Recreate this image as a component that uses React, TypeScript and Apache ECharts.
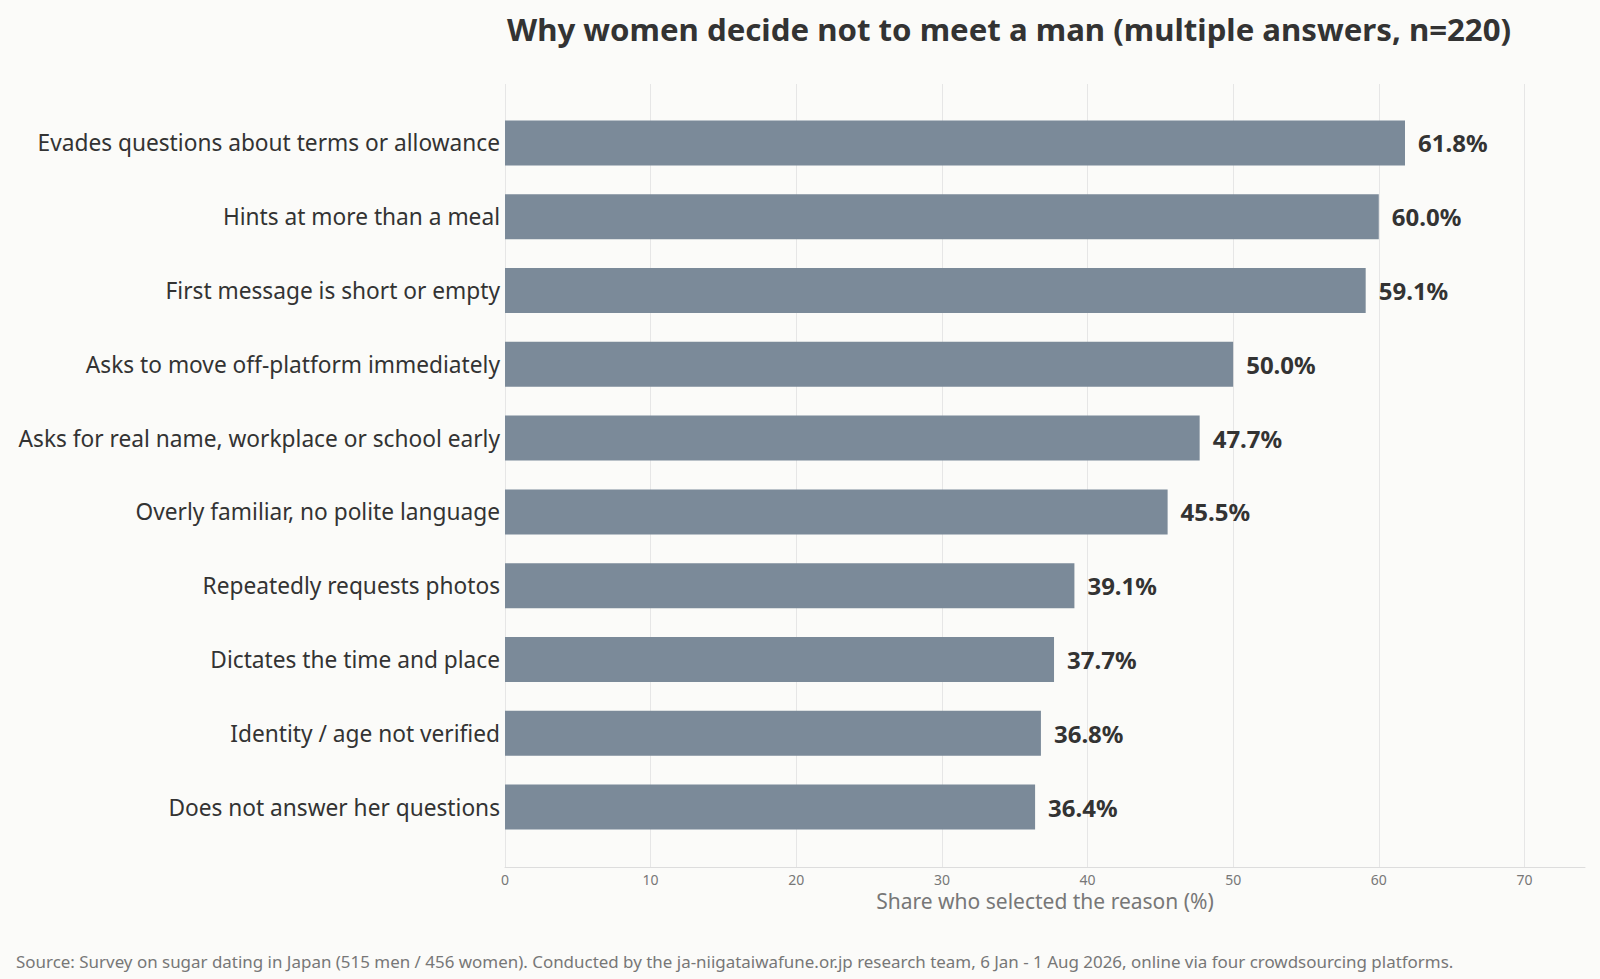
import { useRef, useEffect } from "react";
import * as echarts from "echarts";

// 理由（上から順）
const reasons = [
  "Evades questions about terms or allowance",
  "Hints at more than a meal",
  "First message is short or empty",
  "Asks to move off-platform immediately",
  "Asks for real name, workplace or school early",
  "Overly familiar, no polite language",
  "Repeatedly requests photos",
  "Dictates the time and place",
  "Identity / age not verified",
  "Does not answer her questions",
];

// 選択率 (%)
const shares = [61.8, 60.0, 59.1, 50.0, 47.7, 45.5, 39.1, 37.7, 36.8, 36.4];

const titleText = "Why women decide not to meet a man (multiple answers, n=220)";
const axisName = "Share who selected the reason (%)";
const sourceText =
  "Source: Survey on sugar dating in Japan (515 men / 456 women). Conducted by the ja-niigataiwafune.or.jp research team, 6 Jan - 1 Aug 2026, online via four crowdsourcing platforms.";

const FONT = "'Noto Sans', 'Noto Sans CJK JP', sans-serif";
const X_MAX = 74.16;

const App = () => {
  const chartRef = useRef<HTMLDivElement>(null);

  useEffect(() => {
    document.body.style.margin = "0";
    const myChart = echarts.init(chartRef.current, null, { renderer: "svg" });

    // 上から順に並べるため反転
    const cats = [...reasons].reverse();
    const vals = [...shares].reverse();

    myChart.setOption({
      animation: false,
      backgroundColor: "#fbfbf9",
      textStyle: { fontFamily: FONT },
      title: {
        text: titleText,
        left: 502,
        top: 8,
        textStyle: { fontSize: 31.2, fontWeight: "bold", color: "#333", fontFamily: FONT },
      },
      graphic: [
        {
          type: "text",
          left: 16,
          top: 953,
          style: { text: sourceText, fill: "#777", font: `16.95px ${FONT}` },
        },
      ],
      grid: [
        // 棒
        { left: 505, right: 15, top: 106, bottom: 135 },
        // 目盛線と軸
        { left: 505, right: 15, top: 84, bottom: 112 },
      ],
      xAxis: [
        {
          gridIndex: 0,
          type: "value",
          min: 0,
          max: X_MAX,
          show: false,
          splitLine: { show: false },
        },
        {
          gridIndex: 1,
          type: "value",
          min: 0,
          max: X_MAX,
          interval: 10,
          name: axisName,
          nameLocation: "middle",
          nameGap: 23,
          nameTextStyle: { fontSize: 21, color: "#777" },
          axisLine: { show: true, lineStyle: { color: "#ddd" } },
          axisTick: { show: false },
          axisLabel: { fontSize: 14, color: "#777", showMaxLabel: false, margin: 5 },
          splitLine: { show: true, showMaxLine: false, lineStyle: { color: "#e6e6e6" } },
        },
      ],
      yAxis: [
        {
          gridIndex: 0,
          type: "category",
          data: cats,
          axisLine: { show: false },
          axisTick: { show: false },
          axisLabel: { fontSize: 22.7, color: "#333", margin: 5 },
        },
        {
          gridIndex: 1,
          type: "value",
          show: false,
          splitLine: { show: false },
        },
      ],
      series: [
        {
          type: "bar",
          xAxisIndex: 0,
          yAxisIndex: 0,
          data: vals,
          barWidth: "61%",
          itemStyle: { color: "#7b8a99" },
          label: {
            show: true,
            position: "right",
            distance: 13,
            fontSize: 24,
            fontWeight: "bold",
            color: "#333",
            formatter: (p: any) => p.value.toFixed(1) + "%",
          },
        },
      ],
    });

    return () => {
      myChart.dispose();
    };
  }, []);

  return <div ref={chartRef} style={{ width: "1600px", height: "979px" }}></div>;
};

export default App;
